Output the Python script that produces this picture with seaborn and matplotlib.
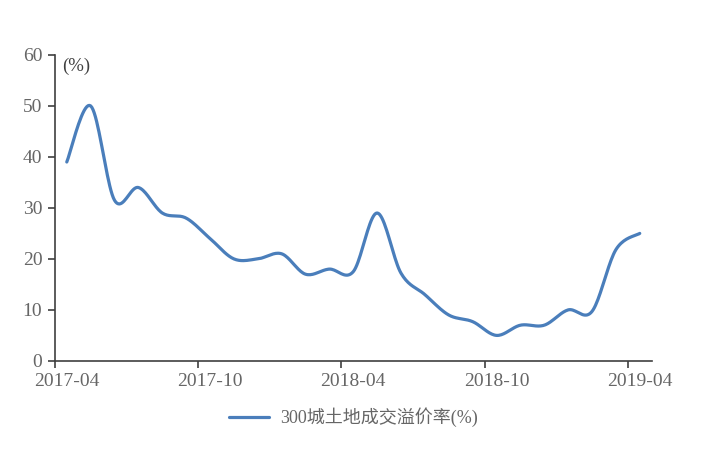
import numpy as np
import pandas as pd
import seaborn as sns
import matplotlib.pyplot as plt

# monthly land transaction premium rate, 300 cities, 2017-04 .. 2019-04
months = pd.date_range("2017-04", "2019-04", freq="MS").strftime("%Y-%m").tolist()
rate = [39, 50, 31.5, 34, 29, 28, 24, 20, 20, 21, 17, 18, 17.5, 29,
        17.2, 13, 9, 7.7, 5, 7, 7, 10, 9.7, 21.8, 25]
tick_labels = ["2017-04", "2017-10", "2018-04", "2018-10", "2019-04"]
series_name = "300城土地成交溢价率(%)"

sns.set_theme(style="white")
plt.rcParams['font.family'] = ['Liberation Serif', 'Noto Sans CJK SC']

def smooth(x, y, n=20):
    # catmull-rom style bezier, like the "smoothed line" option in excel
    x = np.asarray(x, float); y = np.asarray(y, float)
    px = np.concatenate([[x[0]], x, [x[-1]]])
    py = np.concatenate([[y[0]], y, [y[-1]]])
    xs, ys = [], []
    t = np.linspace(0, 1, n, endpoint=False)
    for i in range(1, len(px) - 2):
        p0 = np.array([px[i], py[i]]); p3 = np.array([px[i + 1], py[i + 1]])
        p1 = p0 + (np.array([px[i + 1], py[i + 1]]) - np.array([px[i - 1], py[i - 1]])) / 6
        p2 = p3 - (np.array([px[i + 2], py[i + 2]]) - np.array([px[i], py[i]])) / 6
        b = ((1 - t) ** 3)[:, None] * p0 + (3 * (1 - t) ** 2 * t)[:, None] * p1 \
            + (3 * (1 - t) * t ** 2)[:, None] * p2 + (t ** 3)[:, None] * p3
        xs.extend(b[:, 0]); ys.extend(b[:, 1])
    xs.append(x[-1]); ys.append(y[-1])
    return np.array(xs), np.array(ys)

# category axis: points sit in the middle of each month slot
pos = np.arange(len(months)) + 0.5
sx, sy = smooth(pos, rate)
df = pd.DataFrame({"x": sx, "y": sy, "s": series_name})

fig = plt.figure(figsize=(7.03, 4.5), dpi=100)
ax = fig.add_axes([0.078, 0.198, 0.849, 0.68])
sns.lineplot(data=df, x="x", y="y", hue="s", palette=["#4a7ebb"],
             linewidth=2.3, ax=ax, sort=False)

ax.set_xlim(0, len(months))
ax.set_ylim(0, 60)
idx = [months.index(m) for m in tick_labels]
# tick marks on slot boundaries, labels on slot centres
ax.set_xticks(idx)
ax.set_xticklabels([])
ax.set_xticks([i + 0.5 for i in idx], minor=True)
ax.set_xticklabels(tick_labels, minor=True)
ax.set_yticks(range(0, 61, 10))
ax.set_xlabel(""); ax.set_ylabel("")
for s in ["top", "right"]:
    ax.spines[s].set_visible(False)
for s in ["left", "bottom"]:
    ax.spines[s].set_color("#3f3f3f")
    ax.spines[s].set_linewidth(1.2)
ax.tick_params(axis="both", direction="out", length=5, width=1.2, color="#3f3f3f",
               labelsize=14, labelcolor="#666666", bottom=True, left=True, pad=4)
ax.tick_params(axis="x", which="minor", length=0, pad=9, labelsize=14,
               labelcolor="#666666", bottom=True)
ax.text(0.012, 0.99, "(%)", transform=ax.transAxes, fontsize=13.5,
        color="#404040", va="top", ha="left")

ax.legend(loc="upper center", bbox_to_anchor=(0.5, -0.1), frameon=False,
          fontsize=13, labelcolor="#666666", handlelength=2.2, handletextpad=0.6)

fig.savefig("out.png", dpi=100)
